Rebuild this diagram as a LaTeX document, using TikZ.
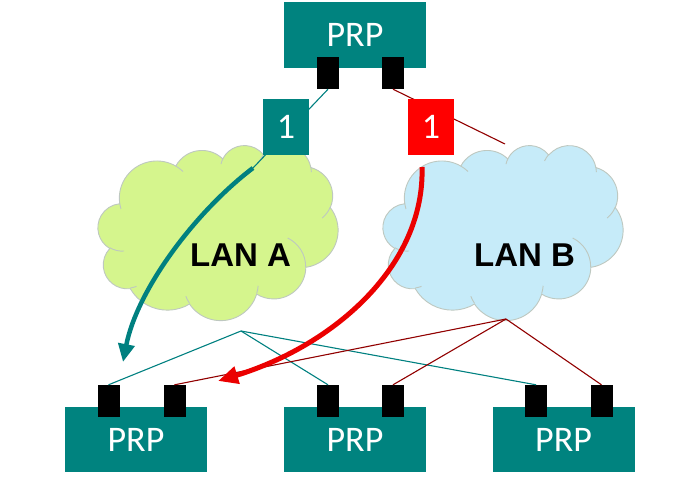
\documentclass[tikz,border=0pt]{standalone}
\usepackage{fontspec}
\setmainfont{Carlito}
\newfontfamily\lanfont{Liberation Sans}
\usetikzlibrary{arrows.meta}
\definecolor{tealc}{RGB}{0,128,128}
\definecolor{boxteal}{RGB}{0,131,127}
\definecolor{lana}{RGB}{213,245,141}
\definecolor{lanb}{RGB}{198,235,249}
\definecolor{cloudedge}{RGB}{190,200,192}
\definecolor{darkred}{RGB}{145,0,0}
\definecolor{arrowred}{RGB}{235,0,0}
\definecolor{onered}{RGB}{255,0,0}

\newcommand\drawcloud[2]{%
\begin{scope}[shift={(#1,145)}, x=0.5556pt, y=-0.4051pt]
\filldraw[fill=#2, draw=cloudedge, line width=0.9pt]
 (39,143.7)
 arc[start angle=172.25, delta angle=128.09, x radius=67.53, y radius=91.90]
 arc[start angle=-152.02, delta angle=106.55, x radius=53.33, y radius=72.67]
 arc[start angle=-153.49, delta angle=116.16, x radius=43.65, y radius=59.45]
 arc[start angle=-139.72, delta angle=129.50, x radius=48.57, y radius=65.95]
 arc[start angle=-74.76, delta angle=97.97, x radius=53.33, y radius=72.73]
 arc[start angle=-37.56, delta angle=119.42, x radius=67.75, y radius=92.20]
 arc[start angle=0.46, delta angle=121.51, x radius=57.85, y radius=78.67]
 arc[start angle=16.84, delta angle=129.39, x radius=67.52, y radius=92.15]
 arc[start angle=59.03, delta angle=91.13, x radius=77.20, y radius=105.43]
 arc[start angle=83.31, delta angle=139.80, x radius=43.60, y radius=59.18]
 arc[start angle=120.39, delta angle=143.72, x radius=43.45, y radius=59.45]
 -- cycle;
\draw[cloudedge, line width=0.9pt]
 (46.93,261.77) arc[start angle=85.55, delta angle=34.84, x radius=43.45, y radius=59.45]
 (69.28,348.99) arc[start angle=68.25, delta angle=15.06, x radius=43.60, y radius=59.18]
 (164.78,390.90) arc[start angle=146.23, delta angle=12.24, x radius=67.52, y radius=92.15]
 (288.27,347.51) arc[start angle=4.74, delta angle=12.10, x radius=67.52, y radius=92.15]
 (341.29,229.54) arc[start angle=-64.00, delta angle=64.46, x radius=57.85, y radius=78.67]
 (417.98,153.54) arc[start angle=23.21, delta angle=26.45, x radius=53.33, y radius=72.73]
 (383.24,54.26) arc[start angle=-10.21, delta angle=11.03, x radius=48.57, y radius=65.95]
 (290.78,39.52) arc[start angle=-156.28, delta angle=16.56, x radius=48.57, y radius=65.95]
 (221.41,47.20) arc[start angle=-167.72, delta angle=14.23, x radius=43.65, y radius=59.45]
 (140.00,51.92) arc[start angle=-59.66, delta angle=13.92, x radius=67.53, y radius=91.90]
 (41.27,157.89) arc[start angle=163.19, delta angle=9.06, x radius=67.53, y radius=91.90];
\end{scope}}

\begin{document}
\begin{tikzpicture}[x=1pt,y=-1pt,
  prpbox/.style={fill=boxteal, minimum width=142pt, minimum height=65pt, inner sep=0pt, text=white, font=\fontsize{36}{36}\selectfont},
  port/.style={fill=black, minimum width=22pt, minimum height=32pt, inner sep=0pt},
  onebox/.style={minimum width=46pt, minimum height=56pt, inner sep=0pt, text=white, font=\fontsize{36}{36}\selectfont},
  lanlabel/.style={font=\lanfont\bfseries\fontsize{33}{33}\selectfont, inner sep=0pt},
  tealline/.style={draw=tealc, line width=1.1pt},
  redline/.style={draw=darkred, line width=1.1pt},
  thickteal/.style={draw=tealc, line width=4.5pt, -{Triangle[length=18pt,width=16pt]}},
  thickred/.style={draw=arrowred, line width=5pt, -{Triangle[length=20pt,width=17pt]}}
  ]
\useasboundingbox (0,0) rectangle (700,487);

% clouds
\drawcloud{98}{lana}
\drawcloud{383}{lanb}
\node[lanlabel] (lanA) at (240.5,255) {LAN A};
\node[lanlabel] (lanB) at (524.5,255) {LAN B};

% top node
\node[prpbox] (top) at (355,35) {PRP};
\node[port] (tp1) at (328,73) {};
\node[port] (tp2) at (393,73) {};

% bottom nodes
\node[prpbox] (left) at (136,439.5) {PRP};
\node[prpbox] (mid) at (355,439.5) {PRP};
\node[prpbox] (right) at (563.5,439.5) {PRP};
\node[port] (lp1) at (108.5,401) {};
\node[port] (lp2) at (174.5,401) {};
\node[port] (mp1) at (328,401) {};
\node[port] (mp2) at (393,401) {};
\node[port] (rp1) at (536,401) {};
\node[port] (rp2) at (601.5,401) {};

% free ends
\coordinate (aEnd) at (253,168);
\coordinate (bEnd) at (505,144);
\coordinate (aHub) at (241,331);
\coordinate (bHub) at (506,319);
\coordinate (bStart) at (422,167);
\coordinate (aTip) at (123,362);
\coordinate (bTip) at (218,381);

% thin lines at the top
\draw[tealline] (tp1.south) -- (aEnd);
\draw[redline] (tp2.south) -- (bEnd);

% frame counters
\node[onebox, fill=boxteal] (oneA) at (286,127) {1};
\node[onebox, fill=onered] (oneB) at (431,127) {1};

% thin lines at the bottom
\draw[tealline] (aHub) -- (lp1.north);
\draw[tealline] (aHub) -- (mp1.north);
\draw[tealline] (aHub) -- (rp1.north);
\draw[redline] (bHub) -- (lp2.north);
\draw[redline] (bHub) -- (mp2.north);
\draw[redline] (bHub) -- (rp2.north);

% thick arrows
\draw[thickteal] (aEnd) .. controls (195,212) and (137,290) .. (aTip);
\draw[thickred] (bStart) .. controls (425,265) and (335,345) .. (bTip);
\end{tikzpicture}
\end{document}
